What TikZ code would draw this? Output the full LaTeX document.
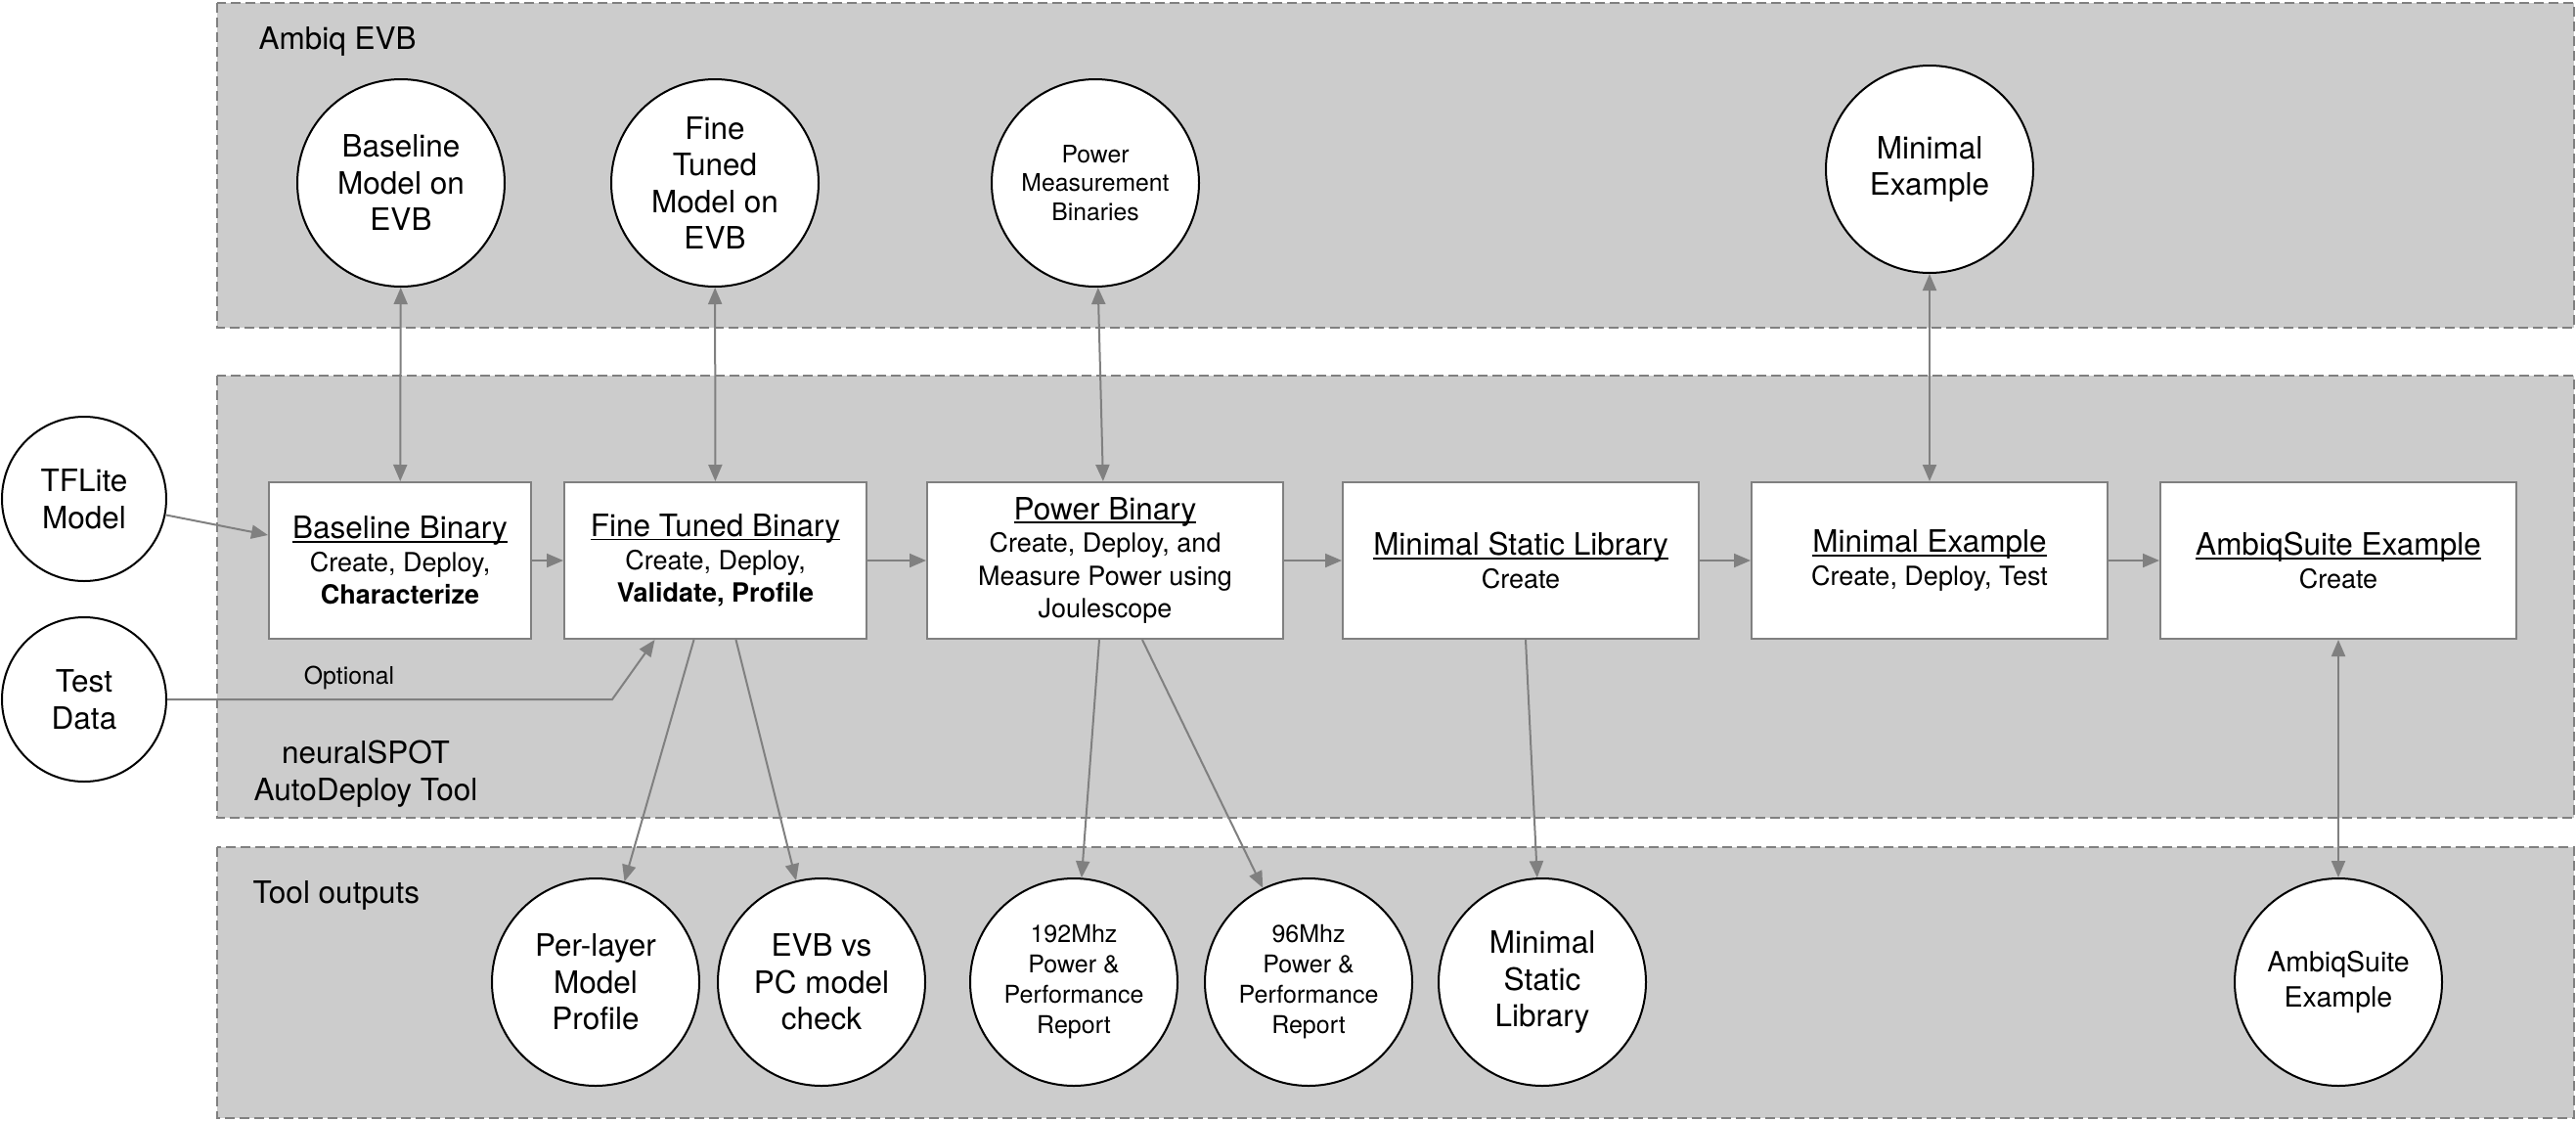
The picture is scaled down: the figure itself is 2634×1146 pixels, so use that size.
\documentclass[tikz,border=0pt]{standalone}
\usepackage{fontspec}
\setmainfont{TeX Gyre Heros}
\usetikzlibrary{arrows.meta}
\definecolor{evbgray}{RGB}{204,204,204}
\definecolor{linkgray}{RGB}{128,128,128}
\newcommand{\bintitle}[1]{{\fontsize{31.5}{37}\selectfont\setbox0\hbox{#1}\rlap{\rule[-3.8pt]{\wd0}{1.8pt}}\box0}}

\begin{document}
\begin{tikzpicture}[x=1pt, y=-1pt,
  panel/.style={draw=linkgray, fill=evbgray, line width=2pt, dash pattern=on 10pt off 5pt},
  bigtext/.style={font=\fontsize{31.5}{37.5}\selectfont},
  smalltext/.style={font=\fontsize{24.75}{29.5}\selectfont},
  evb/.style={circle, draw=black, line width=2pt, fill=white, minimum size=212pt, inner sep=0pt, align=center, bigtext},
  src/.style={evb, minimum size=168pt},
  bin/.style={rectangle, draw=linkgray, line width=2pt, fill=white, minimum height=160pt, minimum width=364pt, inner sep=0pt, align=center, font=\fontsize{27}{33.5}\selectfont},
  link/.style={draw=linkgray, line width=2pt, -{Triangle[length=17pt,width=14pt]}},
  both/.style={link, {Triangle[length=17pt,width=14pt]}-{Triangle[length=17pt,width=14pt]}}]
\useasboundingbox (0,0) rectangle (2634,1146);
% Panels
\draw[panel] (222,3) rectangle (2632,335);
\draw[panel] (222,384) rectangle (2632,836);
\draw[panel] (222,866) rectangle (2632,1143);
\node[bigtext, anchor=west] (evblbl) at (261,42) {Ambiq EVB};
\node[bigtext, align=center] (toollbl) at (374,791) {neuralSPOT\\AutoDeploy Tool};
\node[bigtext, anchor=west] (outlbl) at (255,915) {Tool outputs};
% Ambiq EVB
\node[evb] (bmodel) at (410,187) {Baseline\\Model on\\EVB};
\node[evb] (ftmodel) at (731,187) {Fine\\Tuned\\Model on\\EVB};
\node[evb, smalltext] (pmbin) at (1120,187) {Power\\Measurement\\Binaries};
\node[evb] (mexevb) at (1973,173) {Minimal\\Example};
% Inputs
\node[src] (tflite) at (86,510) {TFLite\\Model};
\node[src] (tdata) at (86,715) {Test\\Data};
% AutoDeploy steps
\node[bin, minimum width=268pt] (bbin) at (409,573) {\bintitle{Baseline Binary}\\Create, Deploy,\\\textbf{Characterize}};
\node[bin, minimum width=309pt] (fine) at (731.5,573) {\bintitle{Fine Tuned Binary}\\Create, Deploy,\\\textbf{Validate, Profile}};
\node[bin] (pbin) at (1130,573) {\bintitle{Power Binary}\\Create, Deploy, and\\Measure Power using\\Joulescope};
\node[bin] (msl) at (1555,573) {\bintitle{Minimal Static Library}\\Create};
\node[bin] (mex) at (1973,573) {\bintitle{Minimal Example}\\Create, Deploy, Test};
\node[bin] (asx) at (2391,573) {\bintitle{AmbiqSuite Example}\\Create};
% Tool outputs
\node[evb] (plprof) at (609,1004) {Per-layer\\Model\\Profile};
\node[evb] (evbpc) at (840,1004) {EVB vs\\PC model\\check};
\node[evb, font=\fontsize{25}{31}\selectfont] (rep192) at (1098,1004) {192Mhz\\Power \&\\Performance\\Report};
\node[evb, font=\fontsize{25}{31}\selectfont] (rep96) at (1338,1004) {96Mhz\\Power \&\\Performance\\Report};
\node[evb] (mslib) at (1577,1004) {Minimal\\Static\\Library};
\node[evb, font=\fontsize{28.5}{36}\selectfont] (asxout) at (2391,1004) {AmbiqSuite\\Example};
% Connectors
\draw[both] (bmodel) -- (bbin);
\draw[both] (ftmodel) -- (fine);
\draw[both] (pmbin) -- (pbin);
\draw[both] (mexevb) -- (mex);
\draw[both] (asx) -- (asxout);
\draw[link] (tflite) -- ([yshift=26pt]bbin.west);
\draw[link] (bbin) -- (fine);
\draw[link] (fine) -- (pbin);
\draw[link] (pbin) -- (msl);
\draw[link] (msl) -- (mex);
\draw[link] (mex) -- (asx);
\coordinate (optbend) at (626,715);
\draw[link] (tdata.east) -- (optbend) -- ([xshift=-62pt]fine.south);
\node[smalltext] (optlbl) at (357,693) {Optional};
\draw[link] ([xshift=-22pt]fine.south) -- (plprof);
\draw[link] ([xshift=21pt]fine.south) -- (evbpc);
\draw[link] ([xshift=-6pt]pbin.south) -- (rep192);
\draw[link] ([xshift=38pt]pbin.south) -- (rep96);
\draw[link] ([xshift=5pt]msl.south) -- (mslib);
\end{tikzpicture}
\end{document}
